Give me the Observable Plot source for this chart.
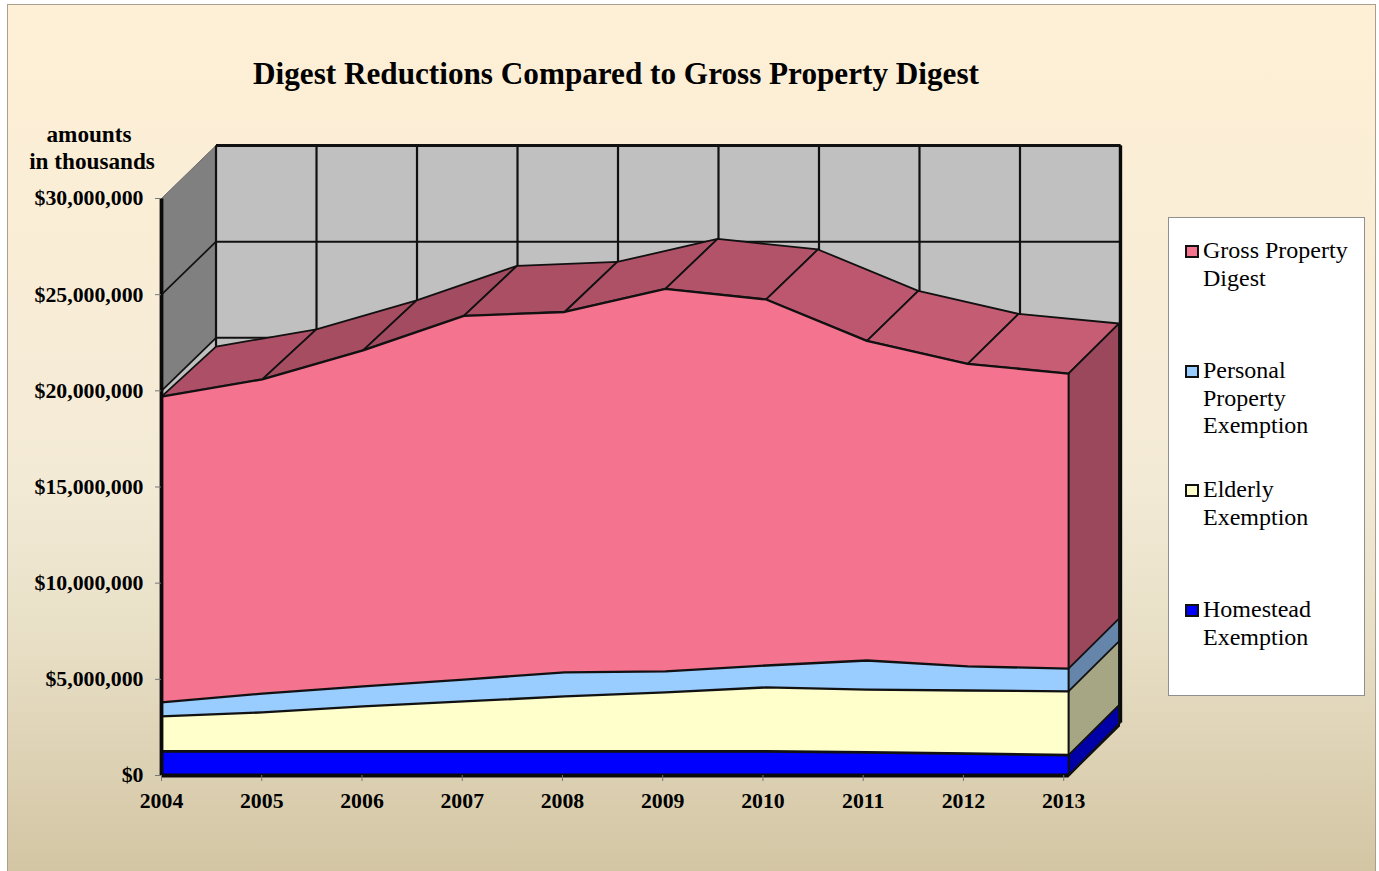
<!DOCTYPE html>
<html><head><meta charset="utf-8">
<script src="https://cdn.jsdelivr.net/npm/d3@7"></script>
<script src="https://cdn.jsdelivr.net/npm/@observablehq/plot@0.6"></script>
<style>
html,body{margin:0;padding:0;background:#fff;width:1379px;height:871px;overflow:hidden}
#page{position:relative;width:1379px;height:871px;overflow:hidden;font-family:"Liberation Serif",serif;color:#000}
#frame{position:absolute;left:7px;top:4px;width:1367px;height:880px;border:1px solid #a8a08c;background:linear-gradient(#fdf0d6 0%,#fbeed6 20%,#f3ead6 55%,#e8dfc6 72%,#d2c4a2 100%)}
#chart{position:absolute;left:0;top:0}
.t{position:absolute;white-space:nowrap}
#title{left:0;width:1232px;top:54px;text-align:center;font-weight:bold;font-size:31.2px;line-height:40px}
#note{left:22px;width:140px;top:120.5px;text-align:center;font-weight:bold;font-size:23.2px;line-height:27px}
#legend{position:absolute;left:1168px;top:217px;width:195px;height:477px;background:#fff;border:1px solid #8f8f8f}
.item{position:absolute;left:34px;font-size:24px;line-height:27.6px}
.sw{position:absolute;left:-18px;top:7.5px;width:9.5px;height:9.5px;border:2.4px solid #111}
</style></head><body>
<div id="page">
<div id="frame"></div>
<div id="chart"></div>
<div class="t" id="title">Digest Reductions Compared to Gross Property Digest</div>
<div class="t" id="note"><span style="position:relative;left:-3px">amounts</span><br>in thousands</div>
<div id="legend"></div>
</div>
<script>
const years = [2004,2005,2006,2007,2008,2009,2010,2011,2012,2013];
const grossDigest = [19700000,20600000,22100000,23900000,24100000,25300000,24750000,22600000,21400000,20900000];
const personalExemption = [3800000,4260000,4630000,4990000,5360000,5410000,5720000,5980000,5670000,5560000];
const elderlyExemption = [3070000,3280000,3590000,3850000,4110000,4320000,4580000,4470000,4420000,4370000];
const homesteadExemption = [1250000,1250000,1250000,1250000,1250000,1250000,1250000,1200000,1140000,1060000];
const yTicks = [0,5000000,10000000,15000000,20000000,25000000,30000000];
const wallLevels = [5000000,10000000,15000000,20000000,25000000,30000000];
const topShades = ["#ad5067","#a64d62","#a34b60","#ab4f65","#ae5167","#b3536a","#bc576f","#c45c74","#c65d75","#c35b73"];

const pink="#f4738f", sky="#99ccff", cream="#ffffcc", blue="#0000ff";
const seriesList = [
  {name:"Gross Property Digest", label:["Gross Property","Digest"], values:grossDigest, fill:pink, side:"#9b475c", top:251},
  {name:"Personal Property Exemption", label:["Personal","Property","Exemption"], values:personalExemption, fill:sky, side:"#6685aa", top:371},
  {name:"Elderly Exemption", label:["Elderly","Exemption"], values:elderlyExemption, fill:cream, side:"#a6a684", top:490},
  {name:"Homestead Exemption", label:["Homestead","Exemption"], values:homesteadExemption, fill:blue, side:"#0000a6", top:610}
];

// oblique projection expressed in data units
const wallDX=0.541, wallDY=2756000, seriesDX=0.541, seriesDY=2600000;
const tickX=y=>y-(y-2004)*0.0053;
const wallX=y=>y+wallDX-(y-2004)*0.0028;
const seriesBackX=y=>y+seriesDX-(y-2004)*0.0045;
const y0=2004, y1=2013, yTop=30000000;
const poly=(pts,o)=>Plot.line(pts,{x:"x",y:"y",curve:"linear-closed",...o});
const seg=(rows,o)=>Plot.link(rows,{x1:"a",y1:"b",x2:"c",y2:"d",...o});

const marks=[];
// walls
marks.push(poly([{x:y0,y:yTop},{x:wallX(y0),y:yTop+wallDY},{x:wallX(y0),y:20000000+wallDY},{x:y0,y:20000000}],{fill:"#808080",stroke:"#6e6e6e",strokeWidth:1}));
marks.push(poly([{x:y0,y:20000000},{x:wallX(y0),y:20000000+wallDY},{x:wallX(y0),y:wallDY},{x:y0,y:0}],{fill:"#c0c0c0"}));
marks.push(poly([{x:wallX(y0),y:yTop+wallDY},{x:wallX(y1),y:yTop+wallDY},{x:wallX(y1),y:wallDY},{x:wallX(y0),y:wallDY}],{fill:"#c0c0c0"}));
// wall grid
marks.push(seg(years.map(y=>({a:wallX(y),b:yTop+wallDY,c:wallX(y),d:wallDY})),{stroke:"#111",strokeWidth:2.2}));
marks.push(seg(wallLevels.map(v=>({a:wallX(y0),b:v+wallDY,c:wallX(y1),d:v+wallDY})),{stroke:"#111",strokeWidth:2}));
marks.push(seg(wallLevels.filter(v=>v<yTop).map(v=>({a:y0,b:v,c:wallX(y0),d:v+wallDY})),{stroke:"#111",strokeWidth:1.7}));
marks.push(seg([{a:wallX(y0),b:yTop+wallDY,c:wallX(y1),d:yTop+wallDY}],{stroke:"#111",strokeWidth:2.8}));
marks.push(seg([{a:wallX(y1),b:yTop+wallDY,c:wallX(y1),d:wallDY}],{stroke:"#0a0a0a",strokeWidth:3.4}));

// gross top surface, one facet per year step
for(let i=0;i<years.length-1;i++){
  const v=grossDigest;
  marks.push(poly([
    {x:years[i],y:v[i]},{x:years[i+1],y:v[i+1]},
    {x:seriesBackX(years[i+1]),y:v[i+1]+seriesDY},{x:seriesBackX(years[i]),y:v[i]+seriesDY}
  ],{fill:topShades[i],stroke:"#111",strokeWidth:1.8}));
}
// side faces + front faces, largest first
for(const s of seriesList){
  const last=s.values[s.values.length-1];
  marks.push(poly([{x:y1,y:0},{x:y1,y:last},{x:seriesBackX(y1),y:last+seriesDY},{x:seriesBackX(y1),y:seriesDY}],{fill:s.side,stroke:"#111",strokeWidth:1.8}));
  const rows=years.map((y,i)=>({year:y,value:s.values[i]}));
  marks.push(Plot.areaY(rows,{x:"year",y1:0,y2:"value",fill:s.fill}));
  marks.push(Plot.line(rows,{x:"year",y:"value",stroke:"#111",strokeWidth:s===seriesList[3]?2.8:2.3}));
}
// front frame
marks.push(seg([{a:y1,b:0,c:y1,d:grossDigest[9]}],{stroke:"#111",strokeWidth:1.8}));
marks.push(seg([{a:y0,b:0,c:y0,d:yTop}],{stroke:"#0a0a0a",strokeWidth:3.8}));
marks.push(seg([{a:y0,b:0,c:y1,d:0}],{stroke:"#0a0a0a",strokeWidth:3.8}));
marks.push(seg([{a:y1,b:0,c:wallX(y1),d:wallDY}],{stroke:"#111",strokeWidth:1.8}));
// axes
const fontOpts={fontFamily:"Liberation Serif",fontWeight:"bold",fontSize:21.8,fill:"#000",stroke:"#777"};
marks.push(Plot.axisY(yTicks,{tickSize:6,tickPadding:12,tickFormat:d=>"$"+d3.format(",")(d),label:null,...fontOpts}));
marks.push(Plot.axisX(years.map(tickX),{tickSize:6,tickPadding:11,tickFormat:d=>String(Math.round(d)),label:null,...fontOpts}));

const chart=Plot.plot({
  width:1379,height:871,
  marginLeft:161,marginRight:311,marginTop:198,marginBottom:96,
  x:{domain:[y0,y1],axis:null},
  y:{domain:[0,yTop],axis:null},
  style:{background:"transparent",overflow:"visible"},
  marks
});
document.getElementById("chart").appendChild(chart);

const legend=document.getElementById("legend");
for(const s of seriesList){
  const d=document.createElement("div");
  d.className="item";
  d.style.top=(s.top-14-218)+"px";
  d.innerHTML=`<span class="sw" style="background:${s.fill}"></span>`+s.label.join("<br>");
  legend.appendChild(d);
}
</script>
</body></html>
